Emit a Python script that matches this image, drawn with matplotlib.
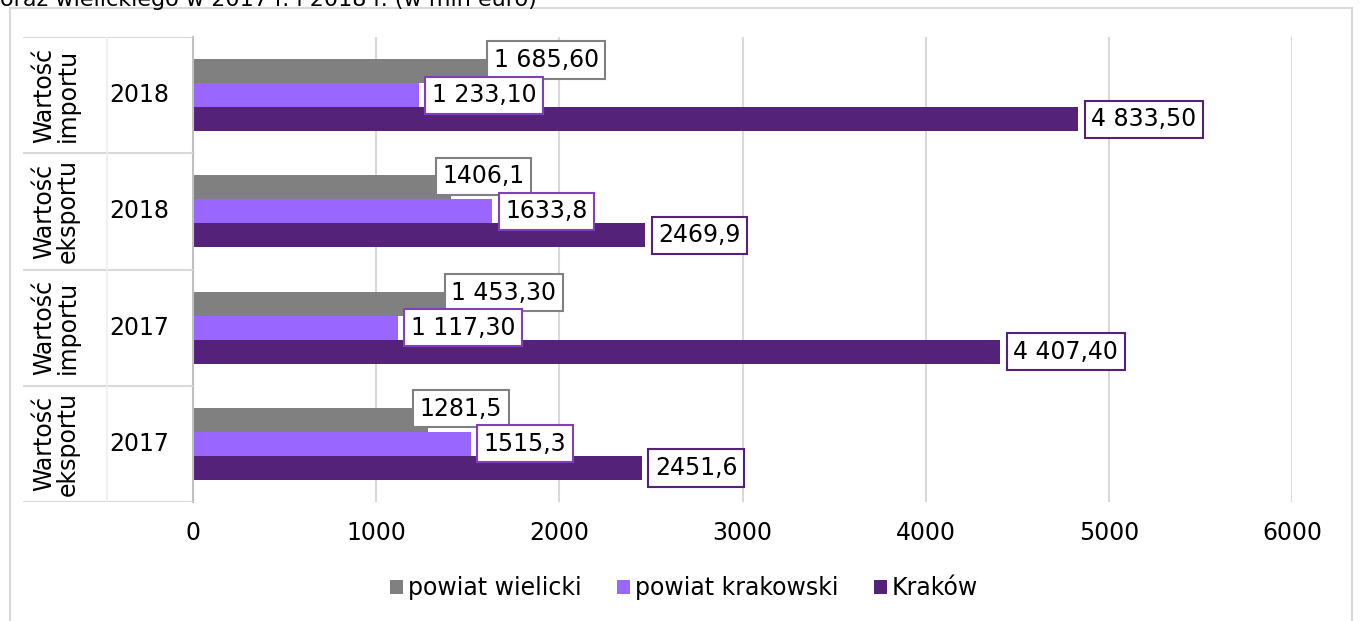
import matplotlib

matplotlib.use("Agg")
import matplotlib.pyplot as plt
from matplotlib.patches import Rectangle

plt.rcParams["font.family"] = ["DejaVu Sans"]

# categories, top to bottom
groups = ["Wartość\nimportu", "Wartość\neksportu", "Wartość\nimportu", "Wartość\neksportu"]
years = ["2018", "2018", "2017", "2017"]
series = ["powiat wielicki", "powiat krakowski", "Kraków"]
wielicki = [1685.6, 1406.1, 1453.3, 1281.5]
krakowski = [1233.1, 1633.8, 1117.3, 1515.3]
krakow = [4833.5, 2469.9, 4407.4, 2451.6]
wielicki_lbl = ["1 685,60", "1406,1", "1 453,30", "1281,5"]
krakowski_lbl = ["1 233,10", "1633,8", "1 117,30", "1515,3"]
krakow_lbl = ["4 833,50", "2469,9", "4 407,40", "2451,6"]
xticks = [0, 1000, 2000, 3000, 4000, 5000, 6000]
title_tail = "oraz wielickiego w 2017 r. i 2018 r. (w mln euro)"

colors = ["#808080", "#9966FF", "#542379"]
edge_colors = ["#808080", "#7F3FBF", "#542379"]

W, H = 1360, 621
fig = plt.figure(figsize=(W / 100, H / 100), dpi=100)


def fx(px):
    return px / W


def fy(py):
    return 1 - py / H


# outer chart frame (cut off at the bottom, like the source)
fig.patches.append(Rectangle((fx(10), -0.1), fx(1352) - fx(10), fy(8) + 0.1,
                             transform=fig.transFigure, fill=False,
                             edgecolor="#d9d9d9", lw=1.5))
fig.text(0, fy(6), title_tail, fontsize=16, ha="left", va="baseline")

ax = fig.add_axes([fx(193), fy(502), fx(1292) - fx(193), fy(37) - fy(502)])
n = len(years)
ypos = [n - 1 - i for i in range(n)]
h = 0.207

all_vals = [wielicki, krakowski, krakow]
all_lbls = [wielicki_lbl, krakowski_lbl, krakow_lbl]
for k, (vals, lbls) in enumerate(zip(all_vals, all_lbls)):
    yy = [y + (1 - k) * h for y in ypos]
    ax.barh(yy, vals, height=h, color=colors[k], label=series[k], zorder=2)
    # gray labels sit a bit up and over the bar end, others just right of it
    dx, dy = (-8, 11) if k == 0 else (13, 0)
    for v, y, s in zip(vals, yy, lbls):
        ax.annotate(s, xy=(v, y), xytext=(dx, dy), textcoords="offset pixels",
                    ha="left", va="center", fontsize=17, zorder=5,
                    bbox=dict(boxstyle="square,pad=0.28", fc="white",
                              ec=edge_colors[k], lw=1.5))

ax.set_xlim(0, 6000)
ax.set_ylim(-0.5, n - 0.5)
ax.set_xticks(xticks)
ax.set_xticklabels([str(t) for t in xticks])
ax.set_yticks([])
ax.tick_params(axis="x", length=0, pad=14, labelsize=17)
ax.grid(axis="x", color="#d9d9d9", lw=1.5, zorder=0)
for side in ("top", "right", "bottom"):
    ax.spines[side].set_visible(False)
ax.spines["left"].set_color("#bfbfbf")
ax.spines["left"].set_linewidth(1.5)

# category table on the left
tab = fig.add_axes([fx(23), fy(502), fx(193) - fx(23), fy(37) - fy(502)])
tab.set_xlim(0, 1)
tab.set_ylim(-0.5, n - 0.5)
tab.axis("off")
for b in range(n + 1):
    tab.axhline(b - 0.5, color="#d9d9d9", lw=1.5)
split = (107 - 23) / 170
tab.axvline(split, color="#eeeeee", lw=1.2)
for g, yr, y in zip(groups, years, ypos):
    tab.text((56 - 23) / 170, y, g, rotation=90, ha="center", va="center",
             ma="center", fontsize=17, linespacing=1.0)
    tab.text((139 - 23) / 170, y, yr, ha="center", va="center", fontsize=17)

handles, labels = ax.get_legend_handles_labels()
fig.legend(handles, labels, loc="center", bbox_to_anchor=(fx(684), fy(588)),
           ncol=3, frameon=False, fontsize=17, handlelength=0.55,
           handleheight=0.55, handletextpad=0.2, columnspacing=1.5)

fig.savefig("out.png", dpi=100)
